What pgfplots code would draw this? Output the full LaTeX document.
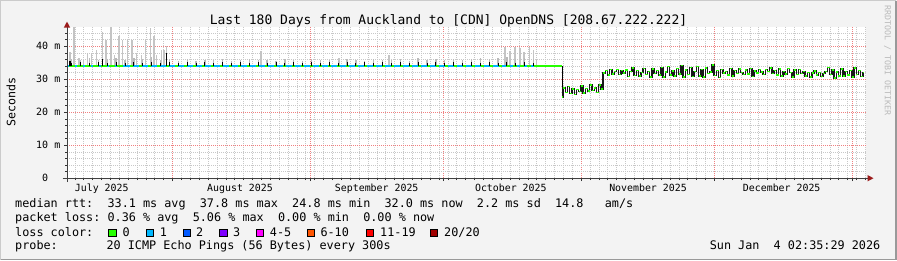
\documentclass[border=0pt]{standalone}
\usepackage{fontspec}
\setmainfont{DejaVu Sans Mono}
\usepackage{pgfplots}
\pgfplotsset{compat=1.18}
\usepackage{pgfplotstable}
\definecolor{bg}{HTML}{F3F3F3}
\definecolor{shadea}{HTML}{CBCBCB}
\definecolor{shadeb}{HTML}{999999}
\definecolor{l0}{HTML}{26FF00}
\definecolor{l1}{HTML}{00B8FF}
\definecolor{l2}{HTML}{0059FF}
\definecolor{l3}{HTML}{7E00FF}
\definecolor{l45}{HTML}{FF00FF}
\definecolor{l610}{HTML}{FF5500}
\definecolor{l1119}{HTML}{FF0000}
\definecolor{l20}{HTML}{A10000}
\definecolor{arrowred}{HTML}{9B1B1B}
\definecolor{smoke}{HTML}{C4C4C4}
\definecolor{gridminor}{HTML}{C8C8C8}
\definecolor{gridmajor}{HTML}{F08080}

% big smoke spikes: x, base, extent above base
\pgfplotstableread{
x y e
7.92 34 4.3
8.82 34 11.7
9.94 34 2.3
10.91 34 1.8
11.81 34 3.8
12.80 34 3.8
13.93 34 4.8
15.28 34 10.3
16.02 34 7.8
17.15 34 11.7
17.89 34 3.3
18.95 34 9.0
19.78 34 7.8
20.82 34 7.8
21.88 34 8.0
22.93 34 3.8
24.06 34 3.3
24.96 34 8.0
26.09 34 11.5
26.83 34 9.0
27.44 34 3.3
28.47 34 4.8
29.08 34 4.8
29.69 34 6.0
50.92 34 4.5
68.49 34 2.3
79.75 34 3.3
105.87 34 5.7
107.00 34 4.5
108.12 34 5.7
109.25 34 5.5
110.15 34 4.2
111.34 34 5.7
112.24 34 5.0
113.00 34 2.0
}\spikes

% small periodic smoke (g) and dark ticks (b)
\pgfplotstableread{
x y g b
8.3 34 2.2 1.0
10.3 34 1.8 1.1
12.3 34 2.4 1.0
14.3 34 1.9 1.1
16.3 34 2.1 1.0
18.3 34 2.5 1.1
20.3 34 1.7 1.0
22.3 34 2.3 1.1
24.3 34 2.0 1.0
26.3 34 2.6 1.1
28.3 34 1.8 1.0
30.3 34 2.2 1.1
32.3 34 1.6 1.0
34.3 34 2.0 1.1
36.3 34 1.5 1.0
38.3 34 1.9 1.1
40.3 34 1.7 1.0
42.3 34 2.1 1.1
44.3 34 1.6 1.0
46.3 34 1.8 1.1
48.3 34 2.0 1.0
50.3 34 1.7 1.1
52.3 34 1.9 1.0
54.3 34 1.6 1.1
56.3 34 2.1 1.0
58.3 34 1.8 1.1
60.3 34 1.6 1.0
62.3 34 2.0 1.1
64.3 34 1.7 1.0
66.3 34 1.9 1.1
68.3 34 1.6 1.0
70.3 34 2.2 1.1
72.3 34 1.8 1.0
74.3 34 1.6 1.1
76.3 34 2.0 1.0
78.3 34 1.7 1.1
80.3 34 1.9 1.0
82.3 34 2.1 1.1
84.3 34 1.6 1.0
86.3 34 2.3 1.1
88.3 34 1.8 1.0
90.3 34 2.0 1.1
92.3 34 1.7 1.0
94.3 34 2.2 1.1
96.3 34 1.9 1.0
98.3 34 2.1 1.1
100.3 34 2.4 1.0
102.3 34 2.0 1.1
104.3 34 2.3 1.0
106.3 34 2.6 1.1
108.3 34 2.2 1.0
110.3 34 2.5 1.1
112.3 34 2.0 1.0
}\ticks

% dark bumps (black) in July
\pgfplotstableread{
x y e
7.92 34 1.5
15.28 34 2.2
29.69 34 4.0
}\bumps

% median rtt after the route change
\pgfplotstableread{
x y
118.7 24.6
119.2 27.4
119.7 26.0
120.2 27.8
120.7 25.7
121.2 27.0
121.7 25.3
122.2 26.9
122.7 26.2
123.2 27.9
123.7 25.8
124.2 27.2
124.7 26.4
125.2 28.2
125.7 26.6
126.2 27.4
126.7 26.0
127.2 28.3
127.7 27.0
128.2 31.9
128.7 32.6
129.2 31.3
129.7 32.9
130.2 31.6
130.7 32.3
131.2 33.0
131.7 31.4
132.2 32.6
132.7 31.9
133.2 32.8
133.7 30.8
134.2 32.3
134.7 33.4
135.2 31.1
135.7 32.7
136.2 30.9
136.7 32.1
137.2 33.3
137.7 31.5
138.2 32.4
138.7 30.7
139.2 33.1
139.7 31.8
140.2 32.6
140.7 31.2
141.2 33.6
141.7 30.6
142.2 32.2
142.7 33.9
143.2 31.3
143.7 32.5
144.2 30.9
144.7 33.2
145.2 31.6
145.7 34.1
146.2 30.7
146.7 32.8
147.2 31.4
147.7 33.5
148.2 30.8
148.7 32.4
149.2 33.8
149.7 31.0
150.2 32.9
150.7 30.6
151.2 33.4
151.7 31.7
152.2 32.2
152.7 34.3
153.2 31.1
153.7 32.6
154.2 30.5
154.7 33.0
155.2 31.9
155.7 32.4
156.2 31.3
156.7 33.2
157.2 30.9
157.7 32.7
158.2 31.8
158.7 33.1
159.2 32.0
159.7 31.4
160.2 32.8
160.7 31.6
161.2 33.3
161.7 30.8
162.2 32.5
162.7 31.9
163.2 33.0
163.7 32.2
164.2 31.5
164.7 32.9
165.2 32.4
165.7 33.4
166.2 31.7
166.7 32.6
167.2 31.2
167.7 33.1
168.2 30.9
168.7 32.3
169.2 31.6
169.7 33.2
170.2 32.0
170.7 30.7
171.2 32.8
171.7 31.5
172.2 33.0
172.7 31.8
173.2 32.4
173.7 31.0
174.2 32.1
174.7 30.6
175.2 31.9
175.7 32.5
176.2 31.2
176.7 32.0
177.2 30.8
177.7 31.7
178.2 32.3
178.7 33.6
179.2 31.4
179.7 32.8
180.2 30.3
180.7 32.2
181.2 31.0
181.7 33.1
182.2 30.9
182.7 32.4
183.2 31.3
183.7 32.7
184.2 30.6
184.7 33.4
185.2 31.5
185.7 32.6
186.2 30.8
186.7 32.1
}\med

\newcommand{\lf}{\fontsize{11.8bp}{14bp}\selectfont}
\begin{document}
\frenchspacing
\begin{tikzpicture}[x=1bp,y=1bp]
\fill[bg] (0,0) rectangle (897,260);
\draw[shadea, line width=1.2bp] (0.6,0.6) -- (0.6,259.4) -- (896.4,259.4);
\draw[shadeb, line width=1.6bp] (0.8,0.8) -- (896.2,0.8) -- (896.2,259.4);
\useasboundingbox (0,0) rectangle (897,260);
\begin{axis}[
  at={(67bp,82bp)}, anchor=south west, scale only axis,
  width=799.4bp, height=151bp,
  xmin=7.24, xmax=187.24, ymin=0, ymax=45.76,
  axis background/.style={fill=white},
  axis lines*=left, axis line style={draw=none},
  xtick={31,62,92,123,153,184},
  minor xtick={9,11,...,187},
  xticklabels={},
  ytick={0,10,20,30,40},
  minor ytick={2,4,...,44},
  yticklabels={0\hphantom{mm},10~m,20~m,30~m,40~m},
  yticklabel style={font=\fontsize{10bp}{12bp}\selectfont, inner sep=0pt, anchor=east, xshift=-3.5bp},
  grid=both,
  major grid style={draw=gridmajor, line width=0.6bp, dash pattern=on 1bp off 1bp},
  minor grid style={draw=gridminor, line width=0.6bp, dash pattern=on 1bp off 1bp},
  tick align=outside, major tick length=3bp, minor tick length=2bp,
  tick style={black!80, line width=0.6bp},
]
% large smoke spikes
\addplot[draw=none, mark=none, forget plot, error bars/.cd, y dir=plus, y explicit, error mark=none,
  error bar style={draw=smoke, line width=1.3bp}] table[x=x, y=y, y error=e] {\spikes};
% small periodic smoke
\addplot[draw=none, mark=none, forget plot, error bars/.cd, y dir=plus, y explicit, error mark=none,
  error bar style={draw=gray!55, line width=1.3bp}] table[x=x, y=y, y error=g] {\ticks};
% median line before the change
\addplot[l0, line width=1.8bp, forget plot] coordinates {(7.24,34.0) (118.7,34.0)};
\addplot[l1, line width=1.8bp, dash pattern=on 2bp off 6bp, forget plot] coordinates {(7.24,34.0) (20.0,34.0)};
\addplot[l1, line width=1.8bp, dash pattern=on 6bp off 3bp, forget plot] coordinates {(20.0,34.0) (105.5,34.0)};
\addplot[l1, line width=1.8bp, dash pattern=on 3bp off 4bp, forget plot] coordinates {(105.5,34.0) (113.0,34.0)};
% dark ticks
\addplot[draw=none, mark=none, forget plot, error bars/.cd, y dir=plus, y explicit, error mark=none,
  error bar style={draw=black, line width=1bp}] table[x=x, y=y, y error=b] {\ticks};
\addplot[draw=none, mark=none, forget plot, error bars/.cd, y dir=plus, y explicit, error mark=none,
  error bar style={draw=black, line width=1.5bp}] table[x=x, y=y, y error=e] {\bumps};
% drop
\addplot[black, line width=1bp, forget plot] coordinates {(118.7,34.0) (118.7,24.6)};
% after the change
\addplot[black!90, line width=1.4bp, const plot mark mid, forget plot] table[x=x, y=y] {\med};
\addplot[l0, line width=1.5bp, jump mark mid, forget plot] table[x=x, y=y] {\med};
\end{axis}
% axes with arrows
\draw[black!75, line width=1bp] (62.5,82) -- (868,82);
\fill[arrowred] (873.5,82) -- (867.5,85.2) -- (867.5,78.8) -- cycle;
\draw[black!75, line width=1bp] (67,78) -- (67,234);
\fill[arrowred] (67,238.6) -- (63.8,232.6) -- (70.2,232.6) -- cycle;
% title
\node[anchor=base, inner sep=0] at (448.5,236) {\fontsize{13bp}{15bp}\selectfont Last 180 Days from Auckland to [CDN] OpenDNS [208.67.222.222]};
% y label
\node[rotate=90, inner sep=0] at (11,158) {\fontsize{11.6bp}{14bp}\selectfont Seconds};
% watermark
\node[rotate=-90, anchor=west, inner sep=0, text=black!27] at (887.5,255) {\fontsize{8.3bp}{10bp}\selectfont RRDTOOL / TOBI OETIKER};
% month labels
\begin{scope}[every node/.style={anchor=base, inner sep=0, font=\fontsize{9.9bp}{12bp}\selectfont}]
\node at (101.7,69) {July 2025};
\node at (240,69) {August 2025};
\node at (376.7,69) {September 2025};
\node at (510.8,69) {October 2025};
\node at (648,69) {November 2025};
\node at (781.7,69) {December 2025};
\end{scope}
% legend
\begin{scope}[every node/.style={anchor=base west, inner sep=0, font=\lf}]
\node at (15,52.3) {median rtt:~~33.1~ms~avg~~37.8~ms~max~~24.8~ms~min~~32.0~ms~now~~2.2~ms~sd~~14.8~~~am/s};
\node at (15,38.3) {packet~loss:~0.36~\%~avg~~5.06~\%~max~~0.00~\%~min~~0.00~\%~now};
\node at (15,24.2) {loss color:};
\node at (122.3,24.2) {0};
\node at (159.7,24.2) {1};
\node at (196,24.2) {2};
\node at (233,24.2) {3};
\node at (269.7,24.2) {4-5};
\node at (320.3,24.2) {6-10};
\node at (380,24.2) {11-19};
\node at (444,24.2) {20/20};
\node at (15,10.3) {probe:};
\node at (106.3,10.3) {20 ICMP Echo Pings (56 Bytes) every 300s};
\node[anchor=base east] at (880.5,10.3) {Sun Jan~~4 02:35:29 2026};
\end{scope}
\begin{scope}[line width=0.8bp, draw=black]
\filldraw[fill=l0] (108.7,24) rectangle (115.9,31.3);
\filldraw[fill=l1] (146.1,24) rectangle (153.3,31.3);
\filldraw[fill=l2] (183.1,24) rectangle (190.3,31.3);
\filldraw[fill=l3] (219.7,24) rectangle (226.9,31.3);
\filldraw[fill=l45] (256.4,24) rectangle (263.6,31.3);
\filldraw[fill=l610] (307.1,24) rectangle (314.3,31.3);
\filldraw[fill=l1119] (366.4,24) rectangle (373.6,31.3);
\filldraw[fill=l20] (430.4,24) rectangle (437.6,31.3);
\end{scope}
\end{tikzpicture}
\end{document}
